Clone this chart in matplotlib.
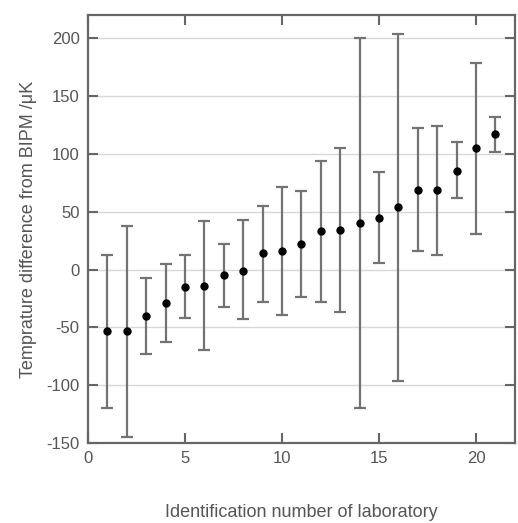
import matplotlib
matplotlib.use("Agg")
import matplotlib.pyplot as plt

# lab id, mean, upper and lower end of the uncertainty bar (uK)
labs  = list(range(1, 22))
means = [-53, -53, -40, -29, -15, -14, -5, -1, 14, 16, 22,
         33, 34, 40, 45, 54, 69, 69, 85, 105, 117]
upper = [13, 38, -7, 5, 13, 42, 22, 43, 55, 71, 68,
         94, 105, 200, 84, 204, 122, 124, 110, 179, 132]
lower = [-120, -145, -73, -63, -42, -70, -32, -43, -28, -39, -24,
         -28, -37, -120, 6, -96, 16, 13, 62, 31, 102]

txt = "#555555"
plt.rcParams["font.family"] = ["Liberation Sans", "DejaVu Sans"]
plt.rcParams["axes.unicode_minus"] = False

fig = plt.figure(figsize=(5.18, 5.23), dpi=100)
ax = fig.add_axes([0.170, 0.153, 0.824, 0.818])

yerr = [[m - lo for m, lo in zip(means, lower)],
        [up - m for m, up in zip(means, upper)]]
ax.errorbar(labs, means, yerr=yerr, fmt="o", ms=5, color="black",
            ecolor="#737373", elinewidth=1.6, capsize=4, capthick=1.6, zorder=3)

ax.set_xlim(0, 22)
ax.set_ylim(-150, 220)
ax.set_xticks([0, 5, 10, 15, 20])
ax.set_yticks(range(-150, 201, 50))
for y in range(-100, 201, 50):
    ax.axhline(y, color="#d8d8d8", lw=1.0, zorder=1)

ax.tick_params(direction="in", top=True, right=True, length=7, width=1.5,
               color="#666666", labelsize=12, labelcolor=txt, pad=6)
for s in ax.spines.values():
    s.set_color("#666666")
    s.set_linewidth(1.6)

ax.set_ylabel("Temprature difference from BIPM /\u03bcK", color=txt, fontsize=13, labelpad=7)
ax.set_xlabel("Identification number of laboratory", color=txt, fontsize=13, labelpad=27)

fig.savefig("out.png", dpi=100)
